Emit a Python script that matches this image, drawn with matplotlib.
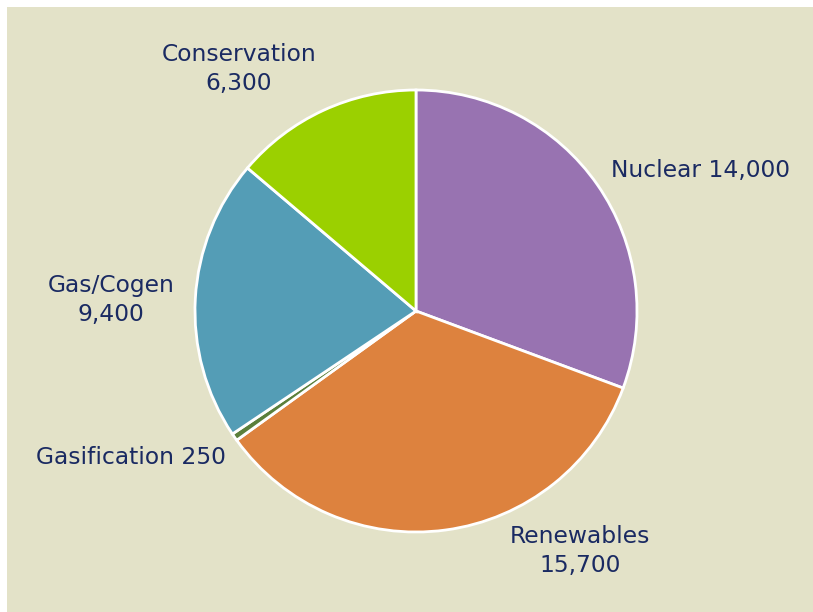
import matplotlib.pyplot as plt
from matplotlib.patches import Rectangle

# generation mix (MW)
names = ["Nuclear", "Renewables", "Gasification", "Gas/Cogen", "Conservation"]
values = [14000, 15700, 250, 9400, 6300]
colors = ["#9873b1", "#dd823e", "#5b7f3b", "#549db6", "#9bd000"]

# label anchor (pixels from top-left), alignment, split into two lines or not
label_pos = [(611, 170, "left", False),
             (580, 551, "center", True),
             (226, 457, "right", False),
             (111, 300, "center", True),
             (239, 69, "center", True)]

bg = "#e3e2c8"
txt = "#1a2a62"

W, H = 813, 612
fig = plt.figure(figsize=(W / 100, H / 100), dpi=100, facecolor="white")
ax = fig.add_axes([0, 0, 1, 1])

ax.add_patch(Rectangle((7, 7), W - 7, H - 7, facecolor=bg, edgecolor="none", zorder=0))

ax.pie(values, colors=colors, startangle=-90, counterclock=True,
       center=(416, 311), radius=221, frame=True,
       wedgeprops=dict(edgecolor="white", linewidth=2))
ax.set_xlim(0, W)
ax.set_ylim(H, 0)
ax.axis("off")

for n, v, (x, y, ha, two) in zip(names, values, label_pos):
    s = f"{n}\n{v:,}" if two else f"{n} {v:,}"
    ax.text(x, y, s, ha=ha, va="center", color=txt, fontsize=16.8,
            family="DejaVu Sans", linespacing=1.32)

fig.savefig("out.png", dpi=100, facecolor="white")
